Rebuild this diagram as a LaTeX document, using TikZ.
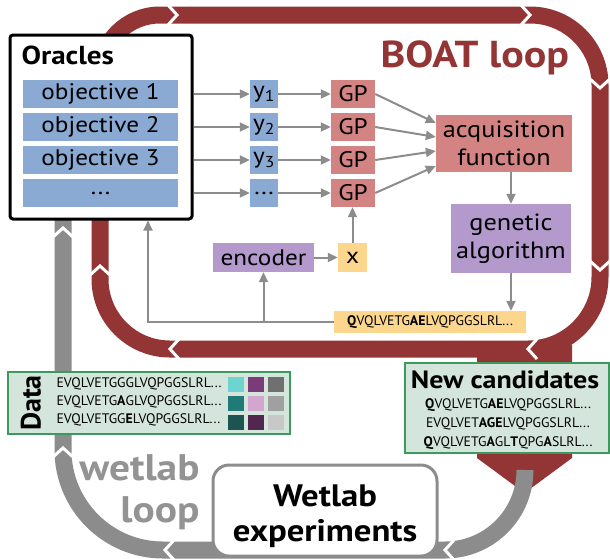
\documentclass[tikz,border=0pt]{standalone}
\usepackage{fontspec}
\setmainfont{PT Sans}[FakeStretch=1.12]
\newfontfamily\plainsans{PT Sans}
\usetikzlibrary{arrows.meta,calc}

\definecolor{boat}{HTML}{933535}
\definecolor{wetgray}{HTML}{8C8C8C}
\definecolor{wettext}{HTML}{939393}
\definecolor{arrgray}{HTML}{8C8C8C}
\definecolor{oblue}{HTML}{8AAAD4}
\definecolor{salmon}{HTML}{D48383}
\definecolor{lilac}{HTML}{B399CC}
\definecolor{sand}{HTML}{FCD68C}
\definecolor{mint}{HTML}{D4E6DC}
\definecolor{mintedge}{HTML}{3C9A5F}
\definecolor{ca}{HTML}{6FD3D0}
\definecolor{cb}{HTML}{7A3B78}
\definecolor{cc}{HTML}{707070}
\definecolor{cd}{HTML}{227A78}
\definecolor{ce}{HTML}{D2A6CF}
\definecolor{cf}{HTML}{A0A0A0}
\definecolor{cg}{HTML}{1C5452}
\definecolor{ch}{HTML}{52264F}
\definecolor{ci}{HTML}{C8C8C8}

% white chevron cut into a loop band, at (x,y), heading (dx,dy)
\newcommand\loopgap[4]{%
  \draw[white, line width=3pt, line join=miter]
    ({#1-9*(#3)+10*(#4)},{#2-9*(#4)-10*(#3)}) -- (#1,#2) --
    ({#1-9*(#3)-10*(#4)},{#2-9*(#4)+10*(#3)});}

\begin{document}
\begin{tikzpicture}[x=1pt,y=-1pt,
  txt/.style={font=\fontsize{22.5}{25}\selectfont},
  seqf/.style={font=\plainsans\fontsize{13.8}{16}\selectfont},
  bx/.style={rectangle, inner sep=0pt, align=center, txt},
  obj/.style={bx, fill=oblue, minimum width=155pt, minimum height=28pt},
  ybox/.style={bx, fill=oblue, minimum width=28pt, minimum height=28pt},
  gpbox/.style={bx, fill=salmon, minimum width=44pt, minimum height=28pt},
  sq/.style={rectangle, inner sep=0pt, minimum width=16pt, minimum height=15pt},
  arr/.style={draw=arrgray, line width=2pt, -{Triangle[length=10pt,width=9pt]}},
  band/.style={line width=17pt}]
\useasboundingbox (0,0) rectangle (610,558);

% ---- BOAT loop band ----
\draw[boat, band] (100,279) -- (100,75) arc[start angle=180,end angle=270,radius=60]
  -- (530,15) arc[start angle=270,end angle=360,radius=70]
  -- (600,277) arc[start angle=0,end angle=90,radius=72]
  -- (170,349) arc[start angle=90,end angle=180,radius=70] -- cycle;
\fill[boat] (477,345) -- (572,345) -- (572,458) -- (524.5,493) -- (477,458) -- cycle;
\loopgap{177}{15}{1}{0}
\loopgap{530}{15}{1}{0}
\loopgap{600}{88}{0}{1}
\loopgap{600}{270}{0}{1}
\loopgap{528}{349}{-1}{0}
\loopgap{170}{349}{-1}{0}
\loopgap{100}{266}{0}{-1}

% ---- wetlab loop band ----
\draw[wetgray, band] (525,470) arc[start angle=0,end angle=90,radius=80]
  -- (163,550) arc[start angle=90,end angle=180,radius=100] -- (63,219);
\loopgap{445}{550}{-1}{0}
\loopgap{165}{550}{-1}{0}
\loopgap{63}{448}{0}{-1}
\loopgap{63}{228}{0}{-1}

% ---- loop titles ----
\node[anchor=base west, text=boat, font=\bfseries\fontsize{37.5}{40}\selectfont] (boattitle) at (377,67) {BOAT loop};
\node[anchor=base east, text=wettext, font=\bfseries\fontsize{37}{40}\selectfont] (wettitle1) at (203,480) {wetlab};
\node[anchor=base east, text=wettext, font=\bfseries\fontsize{37}{40}\selectfont] (wettitle2) at (203,522) {loop};

% ---- oracles ----
\node[draw=black, line width=3pt, rounded corners=3pt, fill=white, inner sep=0pt,
      minimum width=182pt, minimum height=184pt] (oracles) at (101,127) {};
\node[anchor=base west, font=\bfseries\fontsize{26}{30}\selectfont] (orlabel) at (18,64) {Oracles};
\node[obj] (o1) at (100.5,94) {objective 1};
\node[obj] (o2) at (100.5,127) {objective 2};
\node[obj] (o3) at (100.5,160) {objective 3};
\node[obj] (o4) at (100.5,193) {...};

\node[ybox] (y1) at (264,94) {y\textsubscript{1}};
\node[ybox] (y2) at (264,127) {y\textsubscript{2}};
\node[ybox] (y3) at (264,160) {y\textsubscript{3}};
\node[ybox] (y4) at (264,193) {...};

\node[gpbox] (g1) at (353,94) {GP};
\node[gpbox] (g2) at (353,127) {GP};
\node[gpbox] (g3) at (353,160) {GP};
\node[gpbox] (g4) at (353,193) {GP};

\node[bx, fill=salmon, minimum width=136pt, minimum height=57pt, font=\fontsize{23.5}{27.5}\selectfont] (acq) at (504,143.5) {acquisition\\function};
\node[bx, fill=lilac, minimum width=120pt, minimum height=69pt, font=\fontsize{23.5}{27.5}\selectfont] (ga) at (511,238.5) {genetic\\algorithm};
\node[bx, fill=lilac, minimum width=101pt, minimum height=29pt] (enc) at (263.5,257.5) {encoder};
\node[bx, fill=sand, minimum width=29pt, minimum height=29pt] (xb) at (352.5,257.5) {x};
\node[bx, fill=sand, minimum width=192pt, minimum height=22pt, seqf] (seq) at (430,322)
  {\textbf{Q}VQLVETG\textbf{AE}LVQPGGSLRL...};

\foreach \i in {1,2,3,4} {
  \draw[arr] (o\i.east -| oracles.east) -- (y\i.west);
  \draw[arr] (y\i.east) -- (g\i.west);
}
\draw[arr] (g1.east) -- ($(acq.west)+(0,-20.5)$);
\draw[arr] (g2.east) -- ($(acq.west)+(0,-6.5)$);
\draw[arr] (g3.east) -- ($(acq.west)+(0,7.5)$);
\draw[arr] (g4.east) -- ($(acq.west)+(0,22.5)$);
\draw[arr] (ga.north |- acq.south) -- (ga.north);
\draw[arr] (ga.south) -- (ga.south |- seq.north);
\draw[arr] (enc.east) -- (xb.west);
\draw[arr] (xb.north) -- (xb.north |- g4.south);
\coordinate (fb) at (148,322);
\draw[arr] (seq.west) -- (fb) -- (fb |- oracles.south);
\draw[arr] (enc.south |- seq.west) -- (enc.south);

% ---- data ----
\node[draw=mintedge, line width=2pt, fill=mint, inner sep=0pt, minimum width=282pt, minimum height=62pt] (data) at (149,403) {};
\node[rotate=90, font=\plainsans\bfseries\fontsize{28}{30}\selectfont] (datalabel) at (31,403) {Data};
\node[anchor=base west, seqf] (d1) at (53,387) {EVQLVETGGGLVQPGGSLRL...};
\node[anchor=base west, seqf] (d2) at (53,405) {EVQLVETG\textbf{A}GLVQPGGSLRL...};
\node[anchor=base west, seqf] (d3) at (53,423) {EVQLVETGG\textbf{E}LVQPGGSLRL...};
\node[sq, fill=ca] (s11) at (236,384.5) {};
\node[sq, fill=cb] (s12) at (256,384.5) {};
\node[sq, fill=cc] (s13) at (276,384.5) {};
\node[sq, fill=cd] (s21) at (236,403.5) {};
\node[sq, fill=ce] (s22) at (256,403.5) {};
\node[sq, fill=cf] (s23) at (276,403.5) {};
\node[sq, fill=cg] (s31) at (236,422.5) {};
\node[sq, fill=ch] (s32) at (256,422.5) {};
\node[sq, fill=ci] (s33) at (276,422.5) {};

% ---- new candidates ----
\node[draw=mintedge, line width=2pt, fill=mint, inner sep=0pt, minimum width=204pt, minimum height=90pt] (cand) at (507,408) {};
\node[anchor=base, font=\bfseries\fontsize{25}{30}\selectfont] (candlabel) at (505,388) {New candidates};
\node[anchor=base, seqf] (c1) at (508,408) {\textbf{Q}VQLVETG\textbf{AE}LVQPGGSLRL...};
\node[anchor=base, seqf] (c2) at (508,427) {EVQLVET\textbf{AGE}LVQPGGSLRL...};
\node[anchor=base, seqf] (c3) at (508,446) {\textbf{Q}VQLVETG\textbf{A}GL\textbf{T}QPG\textbf{A}SLRL...};

% ---- wetlab experiments ----
\node[draw=wetgray, line width=3pt, rounded corners=16pt, fill=white, inner sep=0pt,
      minimum width=224pt, minimum height=91pt] (wetbox) at (325,510.5) {};
\node[anchor=base, font=\bfseries\fontsize{31}{34}\selectfont] (wet1) at (325,506) {Wetlab};
\node[anchor=base, font=\bfseries\fontsize{31}{34}\selectfont] (wet2) at (325,541) {experiments};
\end{tikzpicture}
\end{document}
